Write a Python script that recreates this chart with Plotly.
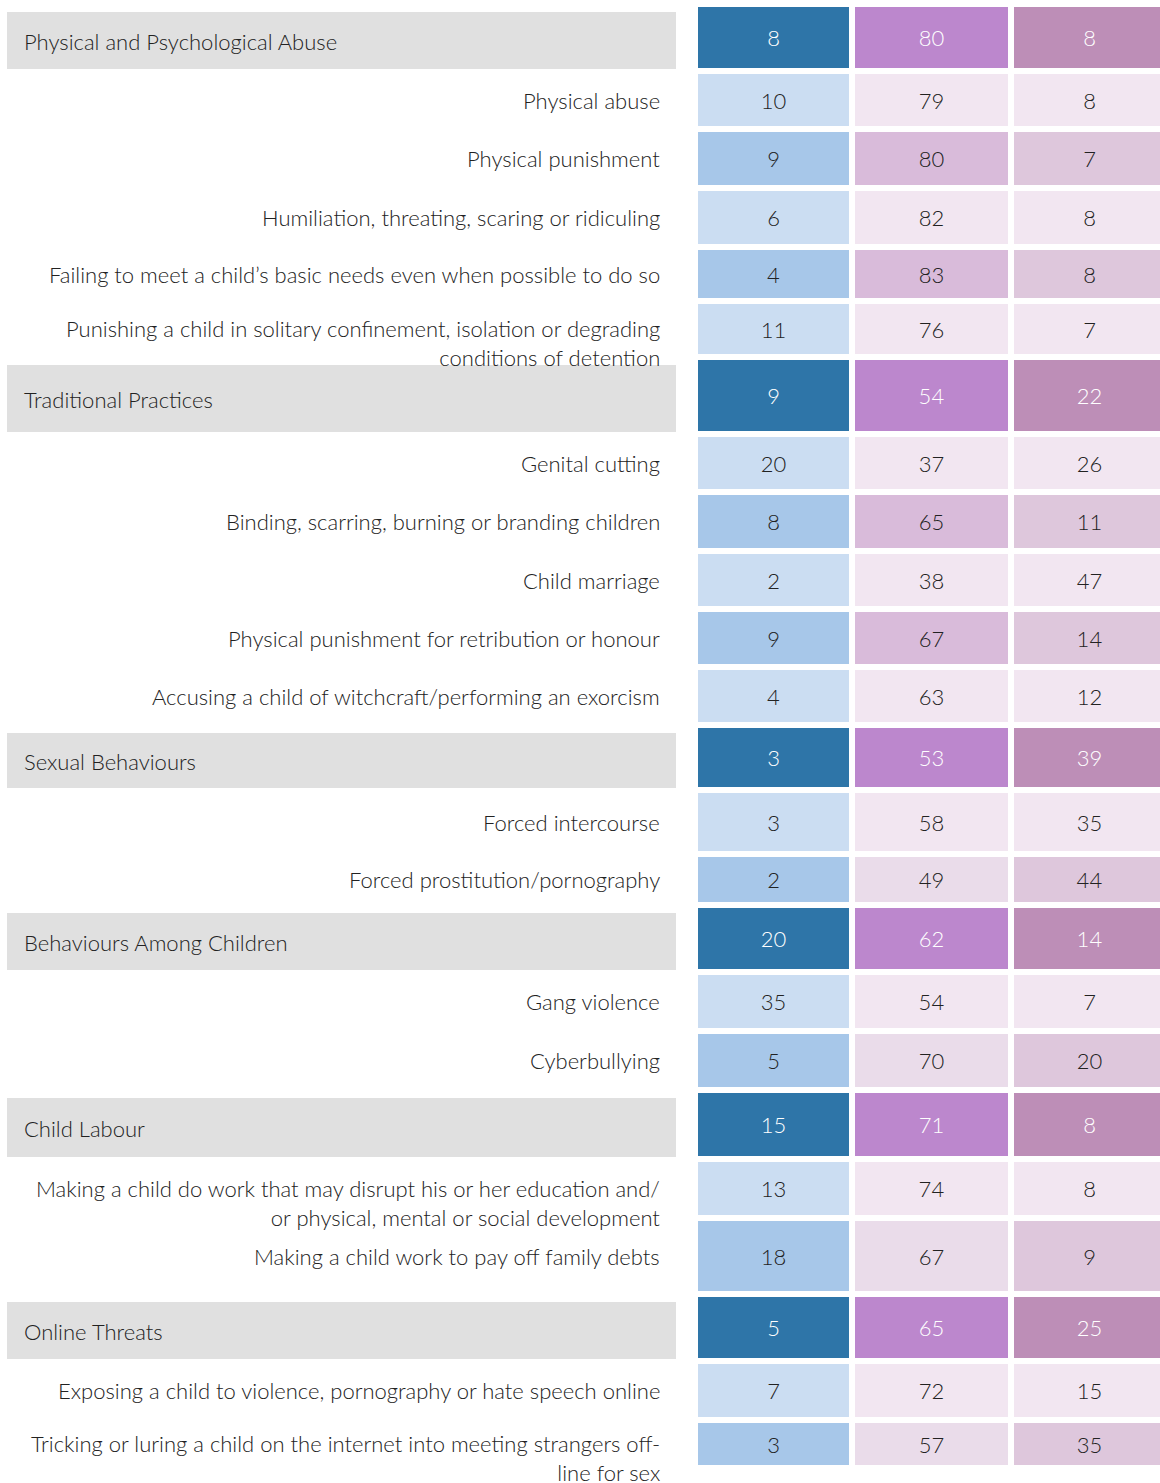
import plotly.graph_objects as go

# ---- data ----
row_labels = [
    "Physical and Psychological Abuse",
    "Physical abuse",
    "Physical punishment",
    "Humiliation, threating, scaring or ridiculing",
    "Failing to meet a child’s basic needs even when possible to do so",
    "Punishing a child in solitary confinement, isolation or degrading<br>conditions of detention",
    "Traditional Practices",
    "Genital cutting",
    "Binding, scarring, burning or branding children",
    "Child marriage",
    "Physical punishment for retribution or honour",
    "Accusing a child of witchcraft/performing an exorcism",
    "Sexual Behaviours",
    "Forced intercourse",
    "Forced prostitution/pornography",
    "Behaviours Among Children",
    "Gang violence",
    "Cyberbullying",
    "Child Labour",
    "Making a child do work that may disrupt his or her education and/<br>or physical, mental or social development",
    "Making a child work to pay off family debts",
    "Online Threats",
    "Exposing a child to violence, pornography or hate speech online",
    "Tricking or luring a child on the internet into meeting strangers off-<br>line for sex",
]
is_header = [1, 0, 0, 0, 0, 0,
             1, 0, 0, 0, 0, 0,
             1, 0, 0,
             1, 0, 0,
             1, 0, 0,
             1, 0, 0]
col1 = [8, 10, 9, 6, 4, 11, 9, 20, 8, 2, 9, 4, 3, 3, 2, 20, 35, 5, 15, 13, 18, 5, 7, 3]
col2 = [80, 79, 80, 82, 83, 76, 54, 37, 65, 38, 67, 63, 53, 58, 49, 62, 54, 70, 71, 74, 67, 65, 72, 57]
col3 = [8, 8, 7, 8, 8, 7, 22, 26, 11, 47, 14, 12, 39, 35, 44, 14, 7, 20, 8, 8, 9, 25, 15, 35]

# ---- layout (pixels) ----
W, H = 1160, 1483
row_pitch = [67, 58, 59, 59, 54, 56, 77, 58, 59, 58, 58, 58, 65, 64, 51, 67, 59, 59, 69, 59, 76, 67, 59, 48]
gap = 6
top = 7
col_x = [698, 855, 1014]
col_w = [151, 153, 151]
label_x0, label_x1 = 7, 676

FONT = "Lato"
FS = 22
TXT = "#222222"

header_col = ["#2E75A8", "#BC87CD", "#BD8EB7"]
light_col = ["#CBDDF2", "#F2E6F1", "#F2E6F1"]
dark_col = ["#A7C7E9", "#D9BBDA", "#DEC7DC"]
dark_mid_late = "#EADCEA"

centers, heights = [], []
y = top
for p in row_pitch:
    h = p - gap
    centers.append(y + h / 2)
    heights.append(h)
    y += p

# colours per row / column
colors = [[], [], []]
text_colors = []
sec = -1
k = 0
for i, hd in enumerate(is_header):
    if hd:
        sec += 1
        k = 0
        for c in range(3):
            colors[c].append(header_col[c])
        text_colors.append("white")
    else:
        dark = (k % 2 == 1)
        for c in range(3):
            if dark:
                col = dark_col[c]
                if c == 1 and sec >= 2:
                    col = dark_mid_late
            else:
                col = light_col[c]
            colors[c].append(col)
        text_colors.append(TXT)
        k += 1

fig = go.Figure()

# grey bands behind section names
hdr_idx = [i for i, hd in enumerate(is_header) if hd]
fig.add_trace(go.Bar(
    orientation="h",
    y=[centers[i] + 3 for i in hdr_idx],
    x=[label_x1 - label_x0] * len(hdr_idx),
    base=label_x0,
    width=[heights[i] - 4 for i in hdr_idx],
    marker=dict(color="#E0E0E0", line=dict(width=0)),
    hoverinfo="skip",
    showlegend=False,
))

for c, vals in enumerate([col1, col2, col3]):
    fig.add_trace(go.Bar(
        orientation="h",
        y=centers,
        x=[col_w[c]] * len(vals),
        base=col_x[c],
        width=heights,
        marker=dict(color=colors[c], line=dict(width=0)),
        text=[str(v) for v in vals],
        textposition="inside",
        insidetextanchor="middle",
        textangle=0,
        textfont=dict(family=FONT, size=FS, color=text_colors, weight=300),
        hoverinfo="skip",
        showlegend=False,
    ))

# row labels
lab_font = dict(family=FONT, size=FS, color=TXT, weight=300)
for i, lab in enumerate(row_labels):
    if is_header[i]:
        fig.add_annotation(x=22, y=centers[i] + 4, xref="x", yref="y", text=lab,
                           showarrow=False, xanchor="left", yanchor="middle",
                           font=lab_font)
    elif "<br>" in lab:
        fig.add_annotation(x=662, y=centers[i] - 16, xref="x", yref="y", text=lab,
                           showarrow=False, xanchor="right", yanchor="top", align="right",
                           font=lab_font)
    else:
        fig.add_annotation(x=662, y=centers[i], xref="x", yref="y", text=lab,
                           showarrow=False, xanchor="right", yanchor="middle", align="right",
                           font=lab_font)

fig.update_layout(
    width=W, height=H,
    margin=dict(l=0, r=0, t=0, b=0),
    paper_bgcolor="white", plot_bgcolor="white",
    barmode="overlay",
    font=dict(family=FONT),
)
fig.update_xaxes(range=[0, W], visible=False, fixedrange=True)
fig.update_yaxes(range=[H, 0], visible=False, fixedrange=True)

# drop the default page margin so the figure sits at the window's corner
fig.write_html("out.html",
               config={"displayModeBar": False},
               post_script="document.body.style.margin='0';document.body.style.overflow='hidden';")
